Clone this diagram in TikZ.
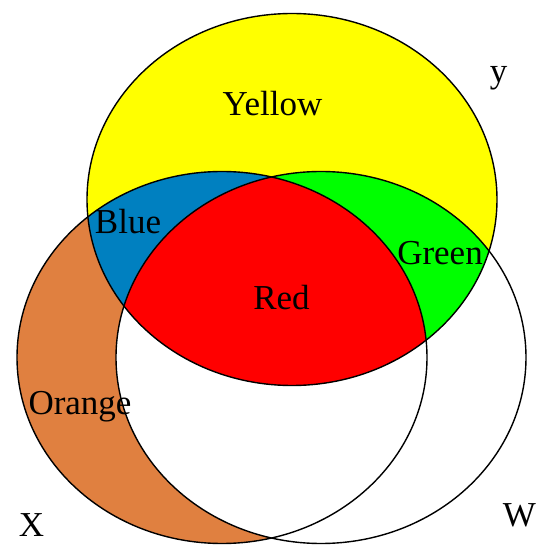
\documentclass[tikz,border=0pt]{standalone}
\usepackage{fontspec}
\setmainfont{Liberation Serif}
\definecolor{vyellow}{RGB}{255,255,0}
\definecolor{vred}{RGB}{255,0,0}
\definecolor{vgreen}{RGB}{0,255,0}
\definecolor{vblue}{RGB}{0,128,192}
\definecolor{vorange}{RGB}{224,128,64}
\begin{document}
\begin{tikzpicture}[x=1pt,y=-1pt,
  lbl/.style={inner sep=0pt, anchor=base, font=\fontsize{35}{35}\selectfont},
  outline/.style={draw=black, line width=1.4pt}]
\useasboundingbox (0,0) rectangle (550,548);
% base fills
\fill[vorange] (222,357.5) ellipse [x radius=205pt, y radius=186pt];
\fill[white] (321,357.5) ellipse [x radius=205pt, y radius=186pt];
\fill[vyellow] (292,199.5) ellipse [x radius=205pt, y radius=186pt];
\begin{scope}
  \clip (292,199.5) ellipse [x radius=205pt, y radius=186pt];
  \fill[vblue] (222,357.5) ellipse [x radius=205pt, y radius=186pt];
  \fill[vgreen] (321,357.5) ellipse [x radius=205pt, y radius=186pt];
  \clip (222,357.5) ellipse [x radius=205pt, y radius=186pt];
  \fill[vred] (321,357.5) ellipse [x radius=205pt, y radius=186pt];
\end{scope}
% outlines
\draw[outline] (292,199.5) ellipse [x radius=205pt, y radius=186pt];
\draw[outline] (222,357.5) ellipse [x radius=205pt, y radius=186pt];
\draw[outline] (321,357.5) ellipse [x radius=205pt, y radius=186pt];
% labels
\node[lbl] (yellow) at (272.5,115.5) {Yellow};
\node[lbl] (red) at (281.5,310) {Red};
\node[lbl] (blue) at (128,234) {Blue};
\node[lbl] (green) at (440,265) {Green};
\node[lbl] (orange) at (80,415) {Orange};
\node[lbl] (ylab) at (498.5,83) {y};
\node[lbl] (xlab) at (31.5,537) {X};
\node[lbl] (wlab) at (519.5,527) {W};
\end{tikzpicture}
\end{document}
